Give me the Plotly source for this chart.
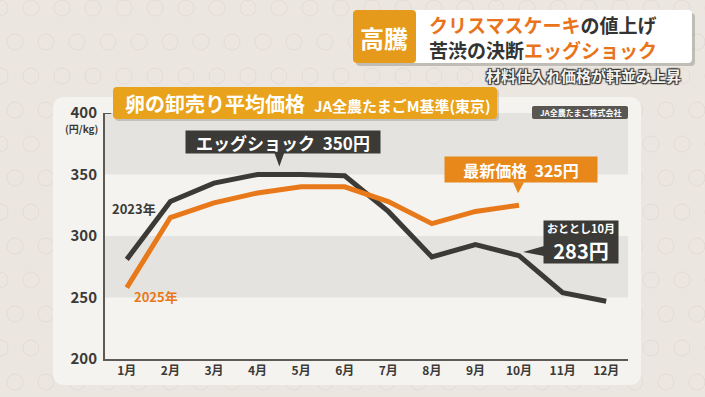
import plotly.graph_objects as go

months = [1, 2, 3, 4, 5, 6, 7, 8, 9, 10, 11, 12]
month_labels = ["1月", "2月", "3月", "4月", "5月", "6月", "7月", "8月", "9月", "10月", "11月", "12月"]
price_2023 = [281, 328, 343, 350, 350, 349, 320, 283, 293, 284, 254, 247]
months_2025 = [1, 2, 3, 4, 5, 6, 7, 8, 9, 10]
price_2025 = [258, 315, 327, 335, 340, 340, 328, 310, 320, 325]
y_ticks = [200, 250, 300, 350, 400]

W, H = 705, 397
FONT = "Noto Sans CJK JP"
DARK = "#3b3a36"
ORANGE = "#e8791a"
GOLD = "#e9a21c"


def px(x):
    return x / W


def py(y):
    return 1 - y / H


def rrect(x0, y0, x1, y1, r):
    X0, X1 = px(x0), px(x1)
    Y0, Y1 = py(y0), py(y1)
    rx, ry = r / W, r / H
    return (f"M {X0+rx},{Y0} L {X1-rx},{Y0} Q {X1},{Y0} {X1},{Y0-ry} "
            f"L {X1},{Y1+ry} Q {X1},{Y1} {X1-rx},{Y1} L {X0+rx},{Y1} "
            f"Q {X0},{Y1} {X0},{Y1+ry} L {X0},{Y0-ry} Q {X0},{Y0} {X0+rx},{Y0} Z")


def ptext(x, y, text, size, color, xanchor="center", **kw):
    return dict(xref="paper", yref="paper", x=px(x), y=py(y), xanchor=xanchor, yanchor="middle",
                text=text, showarrow=False, font=dict(family=FONT, size=size, color=color, **kw))


fig = go.Figure()

fig.add_trace(go.Scatter(x=months, y=price_2023, mode="lines",
                         line=dict(color=DARK, width=5), hoverinfo="skip"))
fig.add_trace(go.Scatter(x=months_2025, y=price_2025, mode="lines",
                         line=dict(color=ORANGE, width=5), hoverinfo="skip"))

shapes = []
# background texture: faint rings
for row in range(12):
    for col in range(24):
        cx = col * 31 + (15 if row % 2 else 0)
        cy = row * 34 + 8
        shapes.append(dict(type="circle", xref="paper", yref="paper", layer="below",
                           x0=px(cx - 8), x1=px(cx + 8), y0=py(cy + 8), y1=py(cy - 8),
                           line=dict(color="rgba(200,190,178,0.25)", width=1)))
# panel
shapes.append(dict(type="path", xref="paper", yref="paper", path=rrect(53, 97, 641, 385, 12),
                   fillcolor="#f5f3ef", line=dict(width=0), layer="below"))
# bands
for lo, hi in [(350, 400), (250, 300)]:
    shapes.append(dict(type="rect", xref="x domain", yref="y", x0=0, x1=1, y0=lo, y1=hi,
                       fillcolor="#e5e3df", line=dict(width=0), layer="below"))
# tick at 400
shapes.append(dict(type="line", xref="x domain", yref="y", x0=0, x1=0.012, y0=400, y1=400,
                   line=dict(color="#5d5a55", width=2)))

# header
shapes.append(dict(type="path", xref="paper", yref="paper", path=rrect(356, 13, 695, 66, 4),
                   fillcolor="rgba(0,0,0,0.18)", line=dict(width=0)))
shapes.append(dict(type="path", xref="paper", yref="paper", path=rrect(353, 10, 692, 63, 4),
                   fillcolor="#ffffff", line=dict(width=0)))
shapes.append(dict(type="path", xref="paper", yref="paper", path=rrect(353, 10, 416, 63, 4),
                   fillcolor="#e59a1c", line=dict(width=0)))
# title banner
shapes.append(dict(type="path", xref="paper", yref="paper", path=rrect(115, 89, 499, 121, 4),
                   fillcolor="rgba(0,0,0,0.15)", line=dict(width=0)))
shapes.append(dict(type="path", xref="paper", yref="paper", path=rrect(113, 87, 497, 119, 4),
                   fillcolor=GOLD, line=dict(width=0)))
# source tag
shapes.append(dict(type="path", xref="paper", yref="paper", path=rrect(532, 106, 628, 119, 2),
                   fillcolor="#5a5752", line=dict(width=0)))

# callout pointers (pixel-offset from data anchors)
shapes.append(dict(type="path", xref="x", yref="y", xsizemode="pixel", ysizemode="pixel",
                   xanchor=4.5, yanchor=350, path="M -5,22 L 5,22 L 0,8 Z",
                   fillcolor=DARK, line=dict(width=0)))
shapes.append(dict(type="path", xref="x", yref="y", xsizemode="pixel", ysizemode="pixel",
                   xanchor=10, yanchor=325, path="M -6,23 L 5,23 L -1,12 Z",
                   fillcolor="#e8871a", line=dict(width=0)))
shapes.append(dict(type="path", xref="x", yref="y", xsizemode="pixel", ysizemode="pixel",
                   xanchor=10, yanchor=283, path="M 25,1 L 25,11 L 4,5 Z",
                   fillcolor=DARK, line=dict(width=0)))

annotations = []
# header texts
annotations.append(ptext(384.5, 37, "<b>高騰</b>", 24, "white"))
annotations.append(ptext(427, 36.5,
                         "<b><span style='color:#e8741c'>クリスマスケーキ</span>の値上げ<br>"
                         "苦渋の決断<span style='color:#e8741c'>エッグショック</span></b>",
                         19, "#333333", xanchor="left", align="left") if False else
                   dict(xref="paper", yref="paper", x=px(427), y=py(36.5), xanchor="left", yanchor="middle",
                        align="left", showarrow=False,
                        text="<b><span style='color:#e8741c'>クリスマスケーキ</span>の値上げ<br>"
                             "苦渋の決断<span style='color:#e8741c'>エッグショック</span></b>",
                        font=dict(family=FONT, size=19, color="#333333")))
annotations.append(ptext(683, 75, "<b>材料仕入れ価格が軒並み上昇</b>", 15, "#f4f2ee", xanchor="right",
                         shadow="1px 1px 1px #333, -1px -1px 1px #333, 1px -1px 1px #333, -1px 1px 1px #333"))
# title banner text
annotations.append(ptext(123, 103, "<b>卵の卸売り平均価格</b>  <b><span style='font-size:15px'>JA全農たまごM基準(東京)</span></b>",
                         20, "white", xanchor="left"))
annotations.append(ptext(580, 112.5, "<b>JA全農たまご株式会社</b>", 8, "white"))
# unit
annotations.append(ptext(100, 128, "<b>(円/kg)</b>", 10, DARK, xanchor="right"))
# series labels
annotations.append(dict(x=months[0], y=price_2023[0], xref="x", yref="y", xshift=7, yshift=51,
                        text="<b>2023年</b>", showarrow=False,
                        font=dict(family=FONT, size=13, color=DARK)))
annotations.append(dict(x=months_2025[0], y=price_2025[0], xref="x", yref="y", xshift=29, yshift=-9,
                        text="<b>2025年</b>", showarrow=False,
                        font=dict(family=FONT, size=13, color=ORANGE)))
# callouts
annotations.append(dict(x=4.5, y=max(price_2023), xref="x", yref="y", yanchor="bottom", yshift=21,
                        xshift=4, width=194, height=22, bgcolor=DARK, borderpad=0,
                        text=f"<b>エッグショック  {max(price_2023)}円</b>", showarrow=False,
                        font=dict(family=FONT, size=17, color="white")))
annotations.append(dict(x=months_2025[-1], y=price_2025[-1], xref="x", yref="y", yanchor="bottom",
                        yshift=22, xshift=2, width=152, height=25, bgcolor="#e8871a", borderpad=0,
                        text=f"<b>最新価格  {price_2025[-1]}円</b>", showarrow=False,
                        font=dict(family=FONT, size=16, color="white")))
annotations.append(dict(x=10, y=price_2023[9], xref="x", yref="y", xanchor="left", yanchor="middle",
                        xshift=24, yshift=14, width=74, height=42, bgcolor=DARK, borderpad=0,
                        text="<b><span style='font-size:11px'>おととし10月</span><br>283円</b>",
                        showarrow=False, font=dict(family=FONT, size=20, color="white")))

fig.update_layout(
    width=W, height=H,
    autosize=False,
    margin=dict(l=0, r=0, t=0, b=0, pad=0, autoexpand=False),
    paper_bgcolor="#ebe6df",
    plot_bgcolor="#f4f2ee",
    showlegend=False,
    shapes=shapes,
    annotations=annotations,
    xaxis=dict(domain=[px(105), px(628)], range=[0.5, 12.5], tickvals=months, ticktext=month_labels,
               showgrid=False, zeroline=False, showline=True, linecolor="#5d5a55", linewidth=2,
               ticks="", automargin=False,
               tickfont=dict(family=FONT, size=12, color=DARK, weight="bold"),
               fixedrange=True),
    yaxis=dict(domain=[py(359), py(113)], range=[200, 400], tickvals=y_ticks,
               showgrid=False, zeroline=False, showline=True, linecolor="#5d5a55", linewidth=2,
               ticks="", ticklabelstandoff=3, automargin=False,
               tickfont=dict(family=FONT, size=15, color=DARK, weight="bold"), fixedrange=True),
)

fig.write_html("out.html", config={"displayModeBar": False},
               post_script="document.body.style.margin='0';document.body.style.overflow='hidden';")
